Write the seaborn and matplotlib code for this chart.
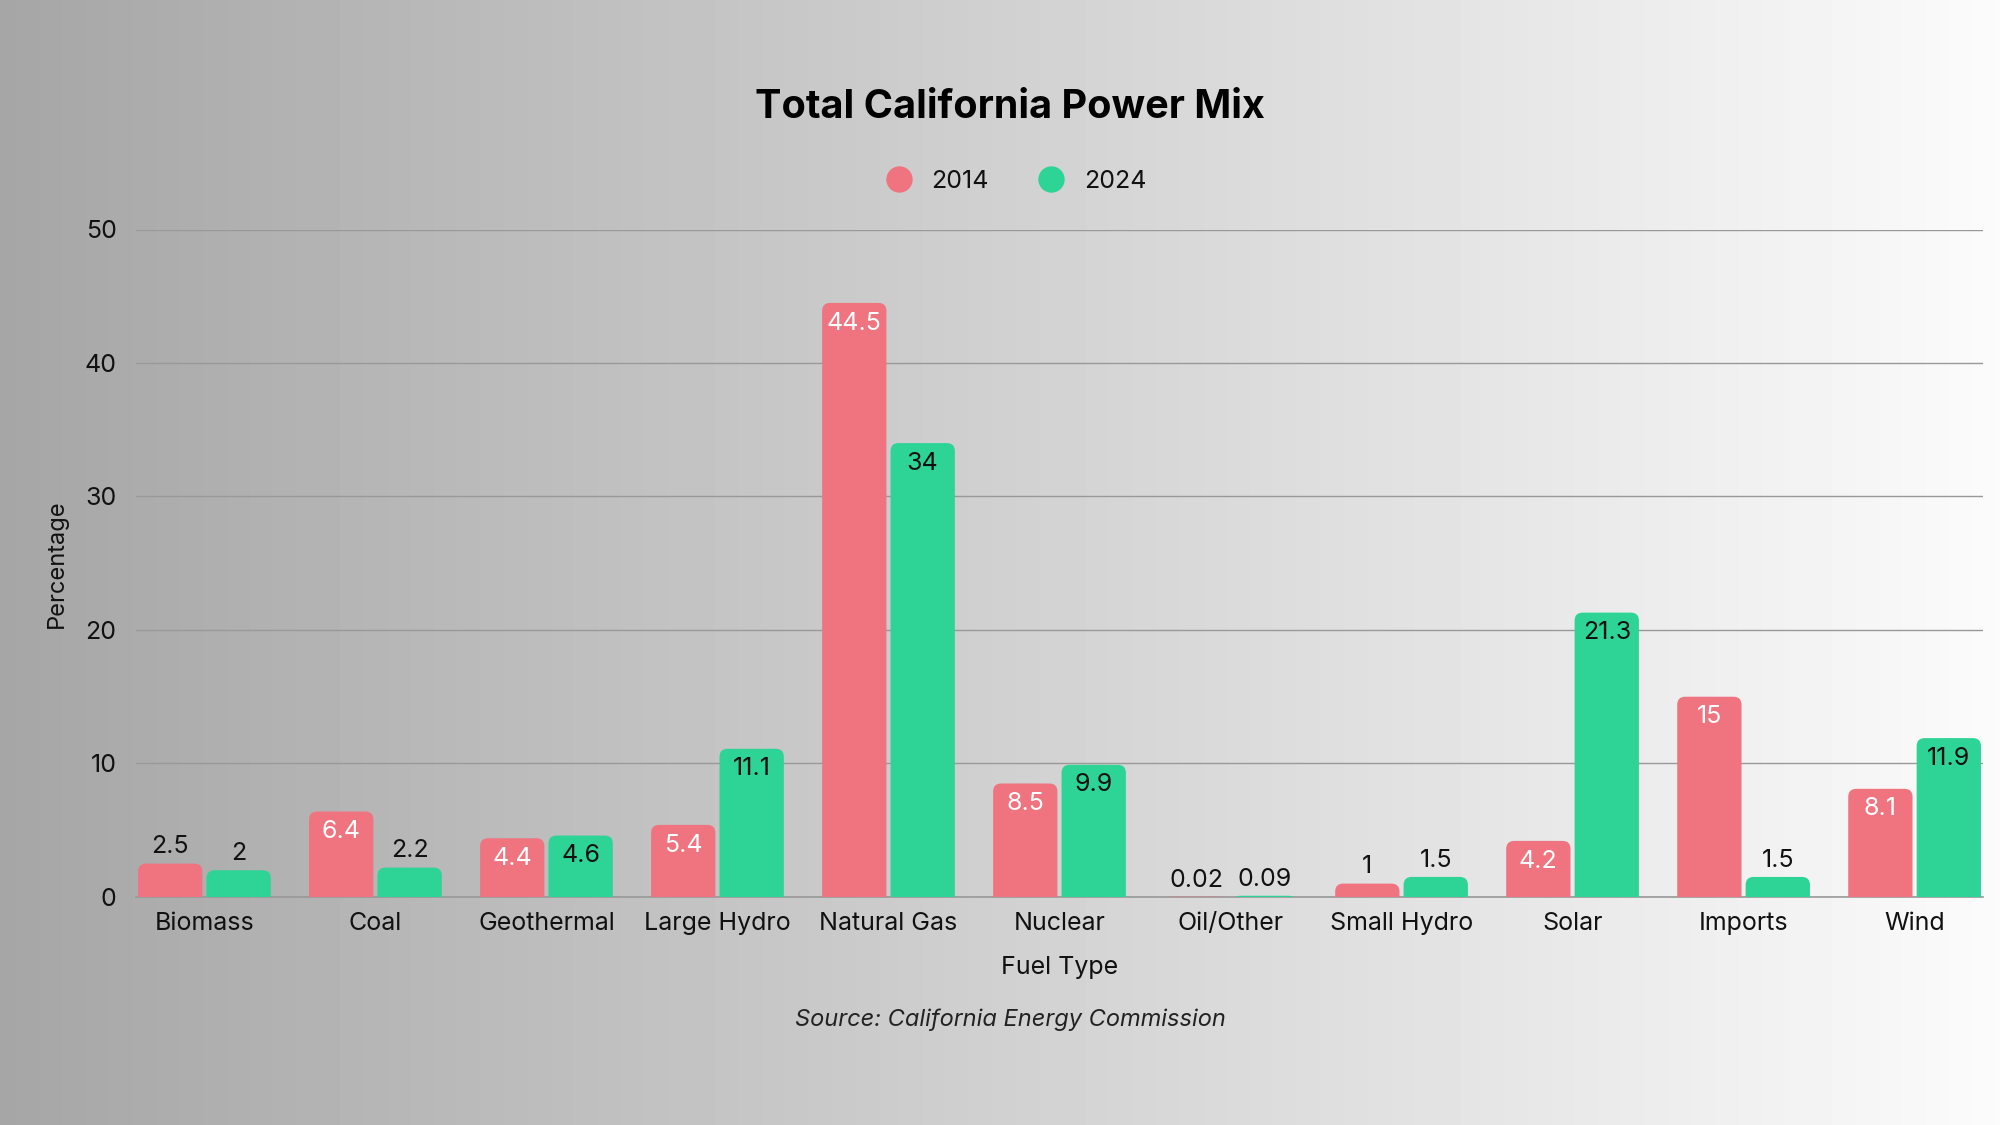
import numpy as np
import pandas as pd
import matplotlib
matplotlib.use("Agg")
import matplotlib.pyplot as plt
import seaborn as sns
from matplotlib.patches import FancyBboxPatch
from matplotlib.lines import Line2D

fuel_types = ["Biomass", "Coal", "Geothermal", "Large Hydro", "Natural Gas",
              "Nuclear", "Oil/Other", "Small Hydro", "Solar", "Imports", "Wind"]
share_2014 = [2.5, 6.4, 4.4, 5.4, 44.5, 8.5, 0.02, 1, 4.2, 15, 8.1]
share_2024 = [2, 2.2, 4.6, 11.1, 34, 9.9, 0.09, 1.5, 21.3, 1.5, 11.9]
years = ["2014", "2024"]
colors = {"2014": "#EF747F", "2024": "#2ED396"}

df = pd.DataFrame({
    "Fuel Type": fuel_types * 2,
    "Year": [years[0]] * len(fuel_types) + [years[1]] * len(fuel_types),
    "Percentage": share_2014 + share_2024,
})

sns.set_style("white")
plt.rcParams["font.family"] = ["Inter", "DejaVu Sans"]
plt.rcParams["text.color"] = "#111111"

fig = plt.figure(figsize=(20, 11.25), dpi=100)

# background gradient
bg = fig.add_axes([0, 0, 1, 1], zorder=-10)
grad = np.linspace(0.65, 0.985, 512).reshape(1, -1)
bg.imshow(grad, cmap="gray", vmin=0, vmax=1, aspect="auto", extent=[0, 1, 0, 1])
bg.set_axis_off()

ax = fig.add_axes([0.068, 0.2027, 0.9235, 0.5933])
ax.set_facecolor("none")

sns.barplot(data=df, x="Fuel Type", y="Percentage", hue="Year",
            hue_order=years, palette=colors, order=fuel_types,
            width=0.8, gap=0.06, saturation=1, legend=False, ax=ax)

ax.set_xlim(-0.4, len(fuel_types) - 0.6)
ax.set_ylim(0, 50)
ax.set_yticks([0, 10, 20, 30, 40, 50])

# rounded tops: swap each rect for a rounded box reaching below the baseline
x_px = 1847 / (len(fuel_types) - 0.2)
y_px = 667.5 / 50
aspect = x_px / y_px
r = 8 / x_px
bars = list(ax.patches)
for p in bars:
    x, w, h = p.get_x(), p.get_width(), p.get_height()
    fc = p.get_facecolor()
    p.remove()
    extra = 2 * r * aspect
    box = FancyBboxPatch((x, -extra), w, h + extra,
                         boxstyle=f"round,pad=0,rounding_size={r}",
                         mutation_aspect=aspect, facecolor=fc,
                         edgecolor="none", zorder=3)
    ax.add_patch(box)
    label = f"{h:g}"
    is_red = np.allclose(fc[:3], matplotlib.colors.to_rgb(colors["2014"]))
    if h >= 3:
        ax.annotate(label, (x + w / 2, h), xytext=(0, -14.5), textcoords="offset points",
                    ha="center", va="center", fontsize=18,
                    color="white" if is_red else "#111111", zorder=4)
    else:
        ax.annotate(label, (x + w / 2, h), xytext=(0, 12), textcoords="offset points",
                    ha="center", va="center", fontsize=18, color="#111111", zorder=4)

ax.grid(axis="y", color="#999999", linewidth=1, zorder=0)
ax.set_axisbelow(True)
for s in ["top", "right", "left"]:
    ax.spines[s].set_visible(False)
ax.spines["bottom"].set_color("#999999")
ax.spines["bottom"].set_linewidth(1.2)
ax.tick_params(axis="both", length=0, labelsize=18, colors="#111111")
ax.tick_params(axis="x", pad=11)
ax.tick_params(axis="y", pad=14)

ax.set_xlabel("Fuel Type", fontsize=18, color="#111111")
ax.set_ylabel("Percentage", fontsize=17, color="#111111")
ax.xaxis.set_label_coords(0.5, -0.088)
ax.yaxis.set_label_coords(-0.037, 0.5)

fig.text(0.505, 1 - 108 / 1125, "Total California Power Mix", ha="center", va="center",
         fontsize=28.5, fontweight="bold", color="#000000")

handles = [Line2D([0], [0], marker="o", linestyle="none", markersize=19,
                  markerfacecolor=colors[yr], markeredgecolor="none", label=yr)
           for yr in years]
fig.legend(handles=handles, loc="center", bbox_to_anchor=(0.505, 1 - 181 / 1125),
           ncol=2, frameon=False, fontsize=18, handletextpad=0.3, columnspacing=1.5)

fig.text(0.505, 1 - 1020 / 1125, "Source: California Energy Commission", ha="center",
         va="center", fontsize=17, fontstyle="italic", color="#222222")

fig.savefig("out.png", dpi=100)
